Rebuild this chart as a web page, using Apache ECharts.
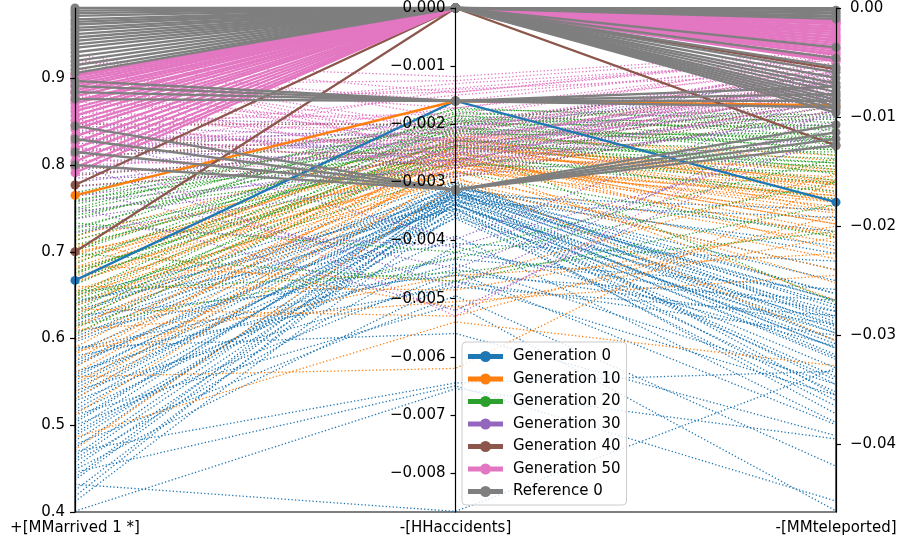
<!DOCTYPE html>
<html>
<head>
<meta charset="utf-8">
<script src="https://cdn.jsdelivr.net/npm/echarts@6/dist/echarts.min.js"></script>
<style>
  html, body { margin: 0; padding: 0; background: #fff; }
  #chart { width: 901px; height: 543px; }
</style>
</head>
<body>
<div id="chart"></div>
<script>
// Objective names (one parallel axis each)
const objectives = ['+[MMarrived 1 *]', '-[HHaccidents]', '-[MMteleported]'];

// Tick values per axis
const ticksMarried = [0.4, 0.5, 0.6, 0.7, 0.8, 0.9];
const ticksAccidents = [-0.008, -0.007, -0.006, -0.005, -0.004, -0.003, -0.002, -0.001, 0];
const ticksTeleported = [-0.04, -0.03, -0.02, -0.01, 0];

// Series labels
const seriesNames = ['Generation 0', 'Generation 10', 'Generation 20', 'Generation 30',
                     'Generation 40', 'Generation 50', 'Reference 0'];

// Population of each generation: [married, accidents, teleported]
const gen0Population = [
  [0.401, -0.00655, -0.0395], [0.412, -0.00352, -0.0341], [0.418, -0.00320, -0.0305],
  [0.425, -0.00335, -0.0360], [0.432, -0.00866, -0.0330], [0.437, -0.00328, -0.0298],
  [0.440, -0.00312, -0.0285], [0.446, -0.00650, -0.0452], [0.449, -0.00470, -0.0355],
  [0.452, -0.00345, -0.0372], [0.458, -0.00410, -0.0310], [0.461, -0.00336, -0.0322],
  [0.465, -0.00318, -0.0268], [0.470, -0.00645, -0.0333], [0.474, -0.00308, -0.0275],
  [0.478, -0.00495, -0.0420], [0.482, -0.00330, -0.0345], [0.488, -0.00360, -0.0298],
  [0.491, -0.00348, -0.0330], [0.495, -0.00305, -0.0262], [0.500, -0.00455, -0.0382],
  [0.503, -0.00316, -0.0295], [0.506, -0.00322, -0.0318], [0.512, -0.00510, -0.0461],
  [0.515, -0.00392, -0.0380], [0.518, -0.00340, -0.0290], [0.522, -0.00310, -0.0355],
  [0.528, -0.00420, -0.0278], [0.531, -0.00325, -0.0268], [0.535, -0.00330, -0.0312],
  [0.540, -0.00470, -0.0300], [0.543, -0.00362, -0.0352], [0.546, -0.00315, -0.0250],
  [0.552, -0.00355, -0.0365], [0.555, -0.00302, -0.0283], [0.558, -0.00320, -0.0272],
  [0.562, -0.00440, -0.0345], [0.568, -0.00305, -0.0240], [0.571, -0.00338, -0.0308],
  [0.574, -0.00338, -0.0320], [0.580, -0.00480, -0.0282], [0.585, -0.00318, -0.0292],
  [0.588, -0.00450, -0.0290], [0.590, -0.00560, -0.0392], [0.596, -0.00325, -0.0218],
  [0.599, -0.00315, -0.0262], [0.602, -0.00300, -0.0305], [0.608, -0.00432, -0.0258],
  [0.614, -0.00345, -0.0338], [0.617, -0.00328, -0.0312], [0.620, -0.00312, -0.0205],
  [0.626, -0.00460, -0.0268], [0.629, -0.00310, -0.0225], [0.632, -0.00322, -0.0185],
  [0.638, -0.00298, -0.0288], [0.641, -0.00345, -0.0278], [0.644, -0.00405, -0.0232],
  [0.650, -0.00335, -0.0192]
];
const gen10Population = [
  [0.472, -0.00305, -0.0240], [0.486, -0.00540, -0.0328], [0.512, -0.00280, -0.0252],
  [0.530, -0.00265, -0.0210], [0.538, -0.00258, -0.0198], [0.548, -0.00290, -0.0305],
  [0.556, -0.00620, -0.0158], [0.560, -0.00262, -0.0268], [0.567, -0.00236, -0.0178],
  [0.575, -0.00250, -0.0195], [0.582, -0.00272, -0.0208], [0.585, -0.00460, -0.0225],
  [0.590, -0.00245, -0.0222], [0.598, -0.00270, -0.0172], [0.604, -0.00230, -0.0185],
  [0.610, -0.00505, -0.0245], [0.611, -0.00226, -0.0162], [0.615, -0.00285, -0.0160],
  [0.622, -0.00255, -0.0205], [0.628, -0.00240, -0.0150], [0.634, -0.00530, -0.0190],
  [0.637, -0.00262, -0.0186], [0.640, -0.00275, -0.0178], [0.645, -0.00222, -0.0168],
  [0.650, -0.00295, -0.0215], [0.652, -0.00238, -0.0158], [0.655, -0.00260, -0.0145],
  [0.660, -0.00485, -0.0200], [0.664, -0.00235, -0.0175], [0.666, -0.00275, -0.0172],
  [0.668, -0.00248, -0.0162], [0.672, -0.00280, -0.0188], [0.676, -0.00215, -0.0140],
  [0.680, -0.00258, -0.0198], [0.682, -0.00225, -0.0160], [0.684, -0.00470, -0.0152],
  [0.688, -0.00228, -0.0170], [0.692, -0.00268, -0.0182], [0.696, -0.00242, -0.0148],
  [0.698, -0.00265, -0.0176], [0.700, -0.00300, -0.0230], [0.705, -0.00232, -0.0165],
  [0.710, -0.00515, -0.0210], [0.714, -0.00252, -0.0155], [0.718, -0.00220, -0.0135]
];
const gen20Population = [
  [0.605, -0.00235, -0.0270], [0.615, -0.00430, -0.0160], [0.620, -0.00228, -0.0142],
  [0.625, -0.00210, -0.0148], [0.632, -0.00195, -0.0135], [0.640, -0.00250, -0.0175],
  [0.645, -0.00282, -0.0210], [0.648, -0.00222, -0.0158], [0.651, -0.00192, -0.0130],
  [0.655, -0.00455, -0.0205], [0.662, -0.00185, -0.0125], [0.668, -0.00240, -0.0142],
  [0.674, -0.00205, -0.0152], [0.676, -0.00236, -0.0138], [0.680, -0.00265, -0.0168],
  [0.686, -0.00178, -0.0118], [0.692, -0.00228, -0.0130], [0.698, -0.00470, -0.0180],
  [0.701, -0.00208, -0.0120], [0.703, -0.00198, -0.0110], [0.708, -0.00245, -0.0145],
  [0.713, -0.00215, -0.0122], [0.718, -0.00172, -0.0105], [0.723, -0.00258, -0.0160],
  [0.726, -0.00186, -0.0108], [0.728, -0.00205, -0.0128], [0.733, -0.00420, -0.0138],
  [0.738, -0.00190, -0.0112], [0.742, -0.00230, -0.0120], [0.746, -0.00270, -0.0150],
  [0.748, -0.00212, -0.0118], [0.750, -0.00182, -0.0100], [0.755, -0.00218, -0.0115],
  [0.758, -0.00195, -0.0102], [0.760, -0.00240, -0.0132], [0.764, -0.00200, -0.0108],
  [0.768, -0.00175, -0.0098]
];
const gen30Population = [
  [0.722, -0.00290, -0.0118], [0.730, -0.00410, -0.0122], [0.738, -0.00265, -0.0105],
  [0.745, -0.00250, -0.0095], [0.752, -0.00520, -0.0112], [0.758, -0.00275, -0.0100],
  [0.764, -0.00235, -0.0088], [0.770, -0.00448, -0.0108], [0.775, -0.00260, -0.0090],
  [0.780, -0.00220, -0.0082], [0.785, -0.00285, -0.0098], [0.790, -0.00245, -0.0078],
  [0.795, -0.00205, -0.0072], [0.800, -0.00480, -0.0092], [0.805, -0.00255, -0.0080],
  [0.810, -0.00230, -0.0068], [0.815, -0.00195, -0.0065], [0.820, -0.00270, -0.0085],
  [0.825, -0.00240, -0.0070], [0.830, -0.00215, -0.0060], [0.835, -0.00398, -0.0075],
  [0.840, -0.00250, -0.0062], [0.845, -0.00225, -0.0058], [0.850, -0.00265, -0.0066],
  [0.856, -0.00205, -0.0055]
];
const gen40Population = [
  [0.776, -0.00262, -0.0086], [0.788, -0.00238, -0.0079], [0.797, -0.00290, -0.0094],
  [0.809, -0.00212, -0.0070], [0.818, -0.00252, -0.0083], [0.829, -0.00228, -0.0066],
  [0.838, -0.00275, -0.0090], [0.847, -0.00200, -0.0061]
];
const gen50Population = [
  [0.800, -0.00250, -0.0075], [0.806, -0.00285, -0.0082], [0.812, -0.00140, -0.0060],
  [0.815, -0.00172, -0.0056], [0.818, -0.00225, -0.0070], [0.824, -0.00530, -0.0088],
  [0.830, -0.00265, -0.0065], [0.833, -0.00235, -0.0072], [0.836, -0.00150, -0.0052],
  [0.842, -0.00240, -0.0078], [0.848, -0.00210, -0.0058], [0.851, -0.00182, -0.0052],
  [0.853, -0.00275, -0.0085], [0.858, -0.00130, -0.0048], [0.863, -0.00230, -0.0068],
  [0.866, -0.00138, -0.0046], [0.868, -0.00255, -0.0062], [0.873, -0.00200, -0.0055],
  [0.878, -0.00145, -0.0045], [0.881, -0.00228, -0.0064], [0.883, -0.00270, -0.0072],
  [0.888, -0.00220, -0.0050], [0.893, -0.00125, -0.0042], [0.896, -0.00172, -0.0050],
  [0.898, -0.00245, -0.0066], [0.903, -0.00212, -0.0054], [0.908, -0.00160, -0.0047],
  [0.911, -0.00208, -0.0058], [0.913, -0.00235, -0.0060], [0.918, -0.00118, -0.0040],
  [0.921, -0.00145, -0.0043], [0.923, -0.00260, -0.0070], [0.928, -0.00190, -0.0044]
];

// Non-dominated individuals of each generation
const gen0Front = [[0.667, -0.00160, -0.0178]];
const gen10Front = [[0.765, -0.00160, -0.0089]];
const gen20Front = [];
const gen30Front = [];
const gen40Front = [[0.700, 0, -0.0126], [0.777, 0, -0.0056]];
const gen50Front = [
  [0.791, 0, -0.0049], [0.797, 0, -0.0046], [0.804, 0, -0.0048], [0.812, 0, -0.0043],
  [0.819, 0, -0.0040], [0.826, 0, -0.0042], [0.833, 0, -0.0037], [0.841, 0, -0.0034],
  [0.846, 0, -0.0038], [0.851, 0, -0.0030], [0.857, 0, -0.0032], [0.862, 0, -0.0027],
  [0.866, 0, -0.0029], [0.871, 0, -0.0024], [0.874, 0, -0.0026], [0.879, 0, -0.0020],
  [0.883, 0, -0.0022], [0.886, 0, -0.0017], [0.890, 0, -0.0019], [0.893, 0, -0.0014],
  [0.896, 0, -0.0012], [0.899, 0, -0.0015], [0.902, 0, -0.0011], [0.904, 0, -0.0013]
];

// Reference solutions
const referenceFront = [
  [0.981, 0, -0.0002], [0.978, 0, -0.0005], [0.975, 0, -0.0008], [0.972, 0, -0.0004],
  [0.968, 0, -0.0010], [0.965, 0, -0.0007], [0.962, 0, -0.0036], [0.958, 0, -0.0046],
  [0.955, 0, -0.0054], [0.951, 0, -0.0059], [0.947, 0, -0.0064], [0.943, 0, -0.0069],
  [0.939, 0, -0.0073], [0.935, 0, -0.0077], [0.930, 0, -0.0081], [0.925, 0, -0.0084],
  [0.920, 0, -0.0087], [0.915, 0, -0.0090], [0.910, 0, -0.0093], [0.906, 0, -0.0096],
  [0.897, -0.00160, -0.0072], [0.891, -0.00160, -0.0079],
  [0.884, -0.00160, -0.0085], [0.876, -0.00160, -0.0091],
  [0.845, -0.00313, -0.0107], [0.830, -0.00313, -0.0114],
  [0.815, -0.00313, -0.0120], [0.800, -0.00313, -0.0126]
];

const palette = ['#1f77b4', '#ff7f0e', '#2ca02c', '#9467bd', '#8c564b', '#e377c2', '#7f7f7f'];
const populations = [gen0Population, gen10Population, gen20Population, gen30Population,
                     gen40Population, gen50Population, []];
const fronts = [gen0Front, gen10Front, gen20Front, gen30Front, gen40Front, gen50Front, referenceFront];

// Axis extents
const axisRanges = [[0.4, 0.981], [-0.00867, 0], [-0.0462, 0]];
const axisTicks = [ticksMarried, ticksAccidents, ticksTeleported];
const tickDigits = [1, 3, 2];

const plotBox = { left: 75, right: 65, top: 8, bottom: 31 };
const chartWidth = 901;
const FONT = 'DejaVu Sans';
const FS = 15;

function fmt(v, digits) {
  const s = Math.abs(v).toFixed(digits);
  return (v < 0 && Math.abs(v) > 1e-12 ? '\u2212' : '') + s;
}

const series = [];
seriesNames.forEach((name, i) => {
  if (populations[i].length) {
    series.push({
      type: 'parallel', name: name, parallelIndex: 0,
      data: populations[i], silent: true,
      lineStyle: { color: palette[i], width: 1.3, type: [1.3, 2.2], opacity: 1 },
      emphasis: { disabled: true }, z: 2
    });
  }
  if (fronts[i].length) {
    series.push({
      type: 'parallel', name: name, parallelIndex: 0,
      data: fronts[i], silent: true,
      lineStyle: { color: palette[i], width: 2.3, type: 'solid', opacity: 1 },
      emphasis: { disabled: true }, z: 3
    });
  }
});
// Circle markers on every axis for the non-dominated lines
seriesNames.forEach((name, i) => {
  if (!fronts[i].length) return;
  for (let k = 0; k < 3; k++) {
    series.push({
      type: 'scatter', name: name, xAxisIndex: 0, yAxisIndex: k,
      data: fronts[i].map(r => [k, r[k]]),
      symbol: 'circle', symbolSize: 9, silent: true,
      itemStyle: { color: palette[i], opacity: 1 },
      z: 4
    });
  }
});

const legendIcon = 'path://M0,6.5L33,6.5L33,9.5L0,9.5Z M21,8A4.5,4.5 0 1,1 12,8A4.5,4.5 0 1,1 21,8Z';

// Middle axis sits half-way between the outer ones
const plotWidth = chartWidth - plotBox.left - plotBox.right;
const axisPlacement = [
  { position: 'left', offset: 0, margin: 10 },
  { position: 'left', offset: -plotWidth / 2, margin: 10 },
  { position: 'right', offset: 0, margin: 14 }
];

const option = {
  animation: false,
  backgroundColor: '#ffffff',
  textStyle: { fontFamily: FONT },
  parallel: {
    left: plotBox.left, right: plotBox.right, top: plotBox.top, bottom: plotBox.bottom,
    layout: 'horizontal'
  },
  // Parallel axes carry only the objective names; ticks come from the y axes below
  parallelAxis: objectives.map((nm, k) => ({
    dim: k, name: nm, type: 'value',
    min: axisRanges[k][0], max: axisRanges[k][1],
    nameLocation: 'start',
    nameGap: 9,
    nameTextStyle: { color: '#000', fontSize: FS, fontFamily: FONT },
    axisLine: { show: false },
    axisTick: { show: false },
    axisLabel: { show: false, color: 'rgba(0,0,0,0)', formatter: () => '' },
    splitLine: { show: false },
    realtime: false
  })),
  grid: {
    left: plotBox.left, right: plotBox.right, top: plotBox.top, bottom: plotBox.bottom,
    show: true, borderColor: '#000', borderWidth: 1.2, backgroundColor: 'transparent'
  },
  xAxis: { type: 'value', min: 0, max: 2, show: false },
  yAxis: axisRanges.map((r, k) => ({
    type: 'value', min: r[0], max: r[1],
    position: axisPlacement[k].position, offset: axisPlacement[k].offset,
    splitLine: { show: false },
    axisLine: { show: true, onZero: false, lineStyle: { color: '#000', width: 1.2 } },
    axisTick: { show: true, length: 5, inside: false, customValues: axisTicks[k],
                lineStyle: { color: '#000', width: 1.2 } },
    axisLabel: { show: true, color: '#000', fontSize: FS, fontFamily: FONT,
                 margin: axisPlacement[k].margin, customValues: axisTicks[k],
                 formatter: v => fmt(v, tickDigits[k]) },
    z: 5
  })),
  legend: {
    left: 462, top: 342,
    orient: 'vertical',
    backgroundColor: 'rgba(255,255,255,0.8)',
    borderColor: '#cccccc', borderWidth: 1, borderRadius: 4,
    padding: [6, 6, 5, 6],
    itemWidth: 33, itemHeight: 12, itemGap: 5.5,
    selectedMode: false,
    textStyle: { color: '#000', fontSize: FS, fontFamily: FONT, lineHeight: 17, padding: [0, 0, 0, 6] },
    data: seriesNames.map((n, i) => ({ name: n, icon: legendIcon, itemStyle: { color: palette[i] } })),
    z: 10
  },
  series: series
};

const chart = echarts.init(document.getElementById('chart'), null, { renderer: 'canvas' });
chart.setOption(option);
</script>
</body>
</html>
